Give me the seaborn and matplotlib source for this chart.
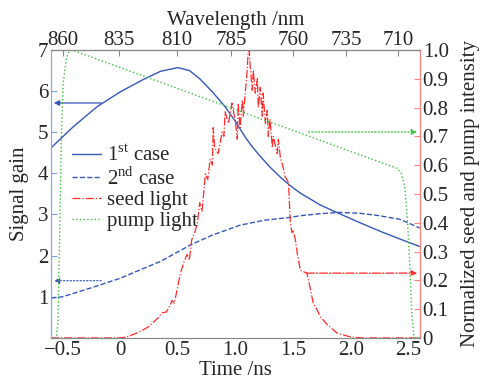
import matplotlib
matplotlib.use('Agg')
import matplotlib.pyplot as plt
import seaborn as sns

# Axis ticks
time_ticks = [-0.5, 0.0, 0.5, 1.0, 1.5, 2.0, 2.5]
time_labels = ['\u22120.5', '0', '0.5', '1.0', '1.5', '2.0', '2.5']
wl_tick_times = [-0.5, -0.01, 0.49, 0.96, 1.5, 1.96, 2.41]
wl_labels = ['860', '835', '810', '785', '760', '735', '710']
gain_ticks = [1, 2, 3, 4, 5, 6, 7]
norm_ticks = [0.0, 0.1, 0.2, 0.3, 0.4, 0.5, 0.6, 0.7, 0.8, 0.9, 1.0]
norm_labels = ['0', '0.1', '0.2', '0.3', '0.4', '0.5', '0.6', '0.7', '0.8', '0.9', '1.0']

# 1st case signal gain
t_case1 = [-0.6, -0.4, -0.2, 0.0, 0.2, 0.35, 0.5, 0.6, 0.69, 0.8, 0.91, 1.0, 1.085,
           1.15, 1.22, 1.3, 1.4, 1.476, 1.5625, 1.736, 1.91, 2.08, 2.257, 2.43, 2.6]
g_case1 = [4.62, 5.15, 5.62, 5.98, 6.28, 6.48, 6.57, 6.5, 6.3, 5.98, 5.62, 5.26, 4.88,
           4.63, 4.4, 4.15, 3.88, 3.7, 3.52, 3.23, 3.01, 2.8, 2.59, 2.4, 2.22]

# 2nd case signal gain
t_case2 = [-0.6, -0.5, -0.26, 0.0, 0.17, 0.35, 0.61, 0.8, 1.04, 1.25, 1.476, 1.5625,
           1.736, 1.9, 2.08, 2.25, 2.43, 2.6]
g_case2 = [0.97, 1.0, 1.21, 1.45, 1.65, 1.86, 2.26, 2.5, 2.74, 2.86, 2.93, 2.97,
           3.02, 3.05, 3.03, 2.97, 2.88, 2.67]

# seed light (normalized)
t_seed = [-0.6, 0.0, 0.05, 0.1, 0.15, 0.2, 0.25, 0.29, 0.33, 0.36, 0.40, 0.43, 0.45,
          0.47, 0.49, 0.52, 0.55, 0.58, 0.60, 0.62, 0.65, 0.67, 0.69, 0.71, 0.74, 0.76,
          0.78, 0.80, 0.807, 0.82, 0.85, 0.885, 0.90, 0.91, 0.94, 0.97, 1.0, 1.016,
          1.024, 1.04, 1.06, 1.068, 1.10, 1.11, 1.12, 1.128, 1.146, 1.155, 1.172, 1.19,
          1.198, 1.215, 1.233, 1.24, 1.26, 1.276, 1.285, 1.30, 1.32, 1.328, 1.363,
          1.372, 1.39, 1.415, 1.43, 1.46, 1.476, 1.49, 1.50, 1.52, 1.536, 1.5625, 1.59,
          1.62, 1.65, 1.675, 1.71, 1.736, 1.80, 1.88, 2.0, 2.1, 2.6]
n_seed = [0.0, 0.0, 0.003, 0.01, 0.018, 0.028, 0.04, 0.055, 0.07, 0.087, 0.09, 0.11, 0.13,
          0.12, 0.16, 0.22, 0.26, 0.29, 0.27, 0.34, 0.37, 0.40, 0.47, 0.44, 0.57, 0.55,
          0.62, 0.60, 0.73, 0.66, 0.64, 0.715, 0.70, 0.785, 0.745, 0.815, 0.75, 0.69,
          0.815, 0.73, 0.826, 0.77, 0.92, 0.99, 1.0, 0.94, 0.86, 0.93, 0.85, 0.90,
          0.80, 0.87, 0.77, 0.85, 0.745, 0.79, 0.70, 0.76, 0.66, 0.70, 0.64,
          0.69, 0.625, 0.59, 0.56, 0.54, 0.40, 0.365, 0.375, 0.34, 0.295, 0.235, 0.23,
          0.225, 0.17, 0.12, 0.097, 0.073, 0.045, 0.017, 0.003, 0.0, 0.0]

# pump light (normalized)
t_pump = [-0.6, -0.555, -0.54, -0.525, -0.51, -0.495, -0.475, -0.455, -0.435, -0.42,
          2.40, 2.44, 2.47, 2.49, 2.51, 2.53, 2.55, 2.6]
n_pump = [0.0, 0.0, 0.05, 0.35, 0.7, 0.88, 0.95, 0.985, 0.998, 1.0,
          0.589, 0.57, 0.52, 0.42, 0.27, 0.08, 0.0, 0.0]

blue = '#3558b8'
red = '#ff2a2a'
green = '#3cbf3c'

sns.set_style('white')
plt.rcParams['font.family'] = ['Liberation Serif', 'DejaVu Serif']
plt.rcParams['mathtext.fontset'] = 'custom'
plt.rcParams['mathtext.rm'] = 'Liberation Serif'
plt.rcParams['xtick.direction'] = 'in'
plt.rcParams['ytick.direction'] = 'in'

fs = 15
fig, ax = plt.subplots(figsize=(4.81, 3.84), dpi=100)
fig.subplots_adjust(left=0.106, right=0.873, top=0.870, bottom=0.120)
ax2 = ax.twinx()

sns.lineplot(x=t_case1, y=g_case1, ax=ax, color=blue, lw=1.0, label='1$^{\\rm st}$ case', legend=False)
sns.lineplot(x=t_case2, y=g_case2, ax=ax, color=blue, lw=1.0, linestyle='--',
             label='2$^{\\rm nd}$ case', legend=False)
sns.lineplot(x=t_seed, y=n_seed, ax=ax2, color=red, lw=0.9, linestyle='-.',
             label='seed light', legend=False)
sns.lineplot(x=t_pump, y=n_pump, ax=ax2, color=green, lw=1.0, linestyle=':',
             label='pump light', legend=False)

# arrows indicating which axis each curve belongs to
ax.annotate('', xy=(-0.6, 5.71), xytext=(-0.14, 5.71),
            arrowprops=dict(arrowstyle='-|>', color=blue, lw=0.9, mutation_scale=8))
ax.annotate('', xy=(-0.6, 1.39), xytext=(-0.14, 1.39),
            arrowprops=dict(arrowstyle='-|>', color=blue, lw=0.9, ls=':', mutation_scale=8))
ax2.annotate('', xy=(2.6, 0.715), xytext=(1.61, 0.715),
             arrowprops=dict(arrowstyle='-|>', color=green, lw=0.9, ls=':', mutation_scale=8))
ax2.annotate('', xy=(2.6, 0.225), xytext=(1.59, 0.225),
             arrowprops=dict(arrowstyle='-|>', color=red, lw=0.9, ls='-.', mutation_scale=8))

ax.set_xlim(-0.6, 2.6)
ax.set_ylim(0, 7)
ax2.set_ylim(0, 1.0)

ax.set_xticks(time_ticks)
ax.set_xticklabels(time_labels, fontsize=fs)
ax.set_yticks(gain_ticks)
ax.set_yticklabels([str(v) for v in gain_ticks], fontsize=fs)
ax2.set_yticks(norm_ticks)
ax2.set_yticklabels(norm_labels, fontsize=fs)

ax.set_xlabel('Time /ns', fontsize=fs, labelpad=1)
ax.set_ylabel('Signal gain', fontsize=fs, labelpad=6)
ax2.set_ylabel('Normalized seed and pump intensity', fontsize=fs, labelpad=9)

top = ax.secondary_xaxis('top')
top.set_xticks(wl_tick_times)
top.set_xticklabels(wl_labels, fontsize=fs)
top.set_xlabel('Wavelength /nm', fontsize=fs, labelpad=4)
top.tick_params(direction='in', length=4, color='#888888', pad=0)

ax.tick_params(axis='x', direction='in', length=4, color='#888888', pad=2)
ax.tick_params(axis='y', direction='in', length=4, color='#7f9fdf', pad=2)
ax2.tick_params(axis='y', direction='in', length=4, color='#ff8080', pad=2)

for a in (ax, ax2):
    a.spines['top'].set_color('#888888')
    a.spines['bottom'].set_color('#888888')
top.spines['top'].set_color('#888888')
ax2.spines['left'].set_color('#8aa8e6')
ax2.spines['right'].set_color('#ff8080')
ax.spines['left'].set_color('#8aa8e6')
ax.spines['right'].set_color('#ff8080')

h1, l1 = ax.get_legend_handles_labels()
h2, l2 = ax2.get_legend_handles_labels()
ax2.legend(h1 + h2, l1 + l2, loc='upper left', bbox_to_anchor=(0.057, 0.67),
           frameon=False, fontsize=fs, handlelength=1.4, handletextpad=0.3,
           labelspacing=0.05, borderpad=0, borderaxespad=0)

fig.savefig('out.png', dpi=100)
